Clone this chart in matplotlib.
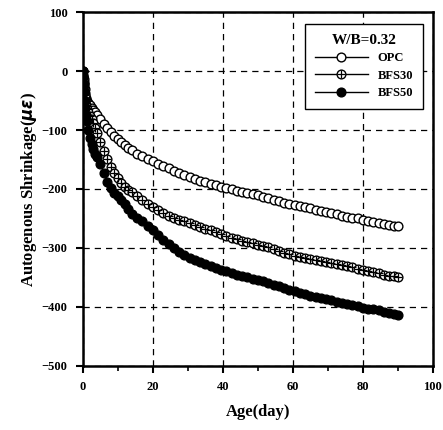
import matplotlib
matplotlib.use('Agg')
import matplotlib.pyplot as plt
from matplotlib.lines import Line2D
from matplotlib.legend_handler import HandlerTuple
from matplotlib.ticker import MultipleLocator

plt.rcParams['font.family'] = ['Liberation Serif', 'DejaVu Serif']
plt.rcParams['font.weight'] = 'bold'

# age in days
age = [0, 0.1, 0.2, 0.3, 0.5, 0.7, 1, 1.3, 1.6, 2, 2.5, 3, 3.5, 4,
       5, 6, 7, 8, 9, 10, 11, 12, 13, 14,
       15.5, 17, 18.5, 20, 21.5, 23, 24.5, 26, 27.5, 29, 30.5, 32, 33.5, 35,
       36.5, 38, 39.5, 41, 42.5, 44, 45.5, 47, 48.5, 50, 51.5, 53, 54.5, 56,
       57.5, 59, 60.5, 62, 63.5, 65, 66.5, 68, 69.5, 71, 72.5, 74, 75.5, 77,
       78.5, 80, 81.5, 83, 84.5, 86, 87.5, 89, 90]

opc = [0, -6, -14, -22, -30, -38, -45, -50, -54, -58, -62, -66, -70, -74,
       -82, -90, -97, -104, -110, -115, -120, -125, -130, -134,
       -140, -144, -149, -153, -157, -161, -165, -169, -173, -177, -180, -183, -186, -189,
       -191, -194, -196, -198, -200, -203, -205, -207, -209, -211, -213, -215, -218, -221,
       -223, -226, -228, -229, -231, -233, -235, -237, -239, -241, -243, -245, -247, -249,
       -250, -252, -254, -256, -258, -259, -261, -262, -263]

bfs30 = [0, -8, -18, -28, -40, -50, -58, -64, -70, -76, -82, -88, -96, -105,
         -120, -135, -150, -162, -173, -182, -190, -196, -201, -205,
         -212, -219, -225, -231, -236, -241, -245, -249, -252, -255, -258, -261, -264, -267,
         -270, -273, -277, -280, -283, -285, -288, -290, -292, -295, -297, -299, -302, -305,
         -308, -310, -313, -315, -317, -319, -320, -322, -324, -325, -327, -329, -331, -333,
         -335, -337, -339, -341, -343, -345, -347, -348, -350]

bfs50 = [0, -10, -22, -35, -50, -62, -75, -85, -100, -114, -124, -133, -140, -146,
         -157, -173, -188, -198, -206, -212, -219, -226, -234, -242,
         -249, -255, -262, -270, -278, -286, -293, -300, -306, -312, -317, -320, -324, -328,
         -331, -334, -337, -339, -342, -345, -347, -349, -352, -354, -356, -359, -362, -365,
         -368, -371, -373, -376, -378, -381, -383, -385, -387, -389, -391, -393, -395, -397,
         -399, -401, -403, -404, -406, -408, -410, -412, -413]

fig = plt.figure(figsize=(4.43, 4.30), dpi=100)
ax = fig.add_axes([0.187, 0.149, 0.79, 0.823])

ms = 6.3
ax.plot(age, opc, 'o', ms=ms, mfc='white', mec='black', mew=1, zorder=3)
ax.plot(age, bfs30, 'o', ms=ms, mfc='white', mec='black', mew=1, zorder=3)
ax.plot(age, bfs30, '+', ms=ms, color='black', mew=0.9, zorder=4)
ax.plot(age, bfs50, 'o', ms=ms, mfc='black', mec='black', mew=1, zorder=3)

ax.set_xlim(0, 100)
ax.set_ylim(-500, 100)
ax.xaxis.set_major_locator(MultipleLocator(20))
ax.xaxis.set_minor_locator(MultipleLocator(10))
ax.yaxis.set_major_locator(MultipleLocator(100))
ax.tick_params(axis='both', which='major', direction='out', length=5, width=1.5,
               labelsize=9, pad=6)
ax.tick_params(axis='x', which='minor', direction='out', length=3.5, width=1.2)
for s in ax.spines.values():
    s.set_linewidth(1.8)

ax.grid(True, which='major', color='black', linestyle=(0, (5, 4)), linewidth=0.9)

ax.set_xlabel('Age(day)', fontsize=12, fontweight='bold', labelpad=8)
ax.set_ylabel(r'Autogenous Shrinkage($\mu\varepsilon$)', fontsize=12, fontweight='bold', labelpad=2)

h_opc = Line2D([], [], color='black', lw=1, marker='o', ms=ms, mfc='white', mec='black')
h_30a = Line2D([], [], color='black', lw=1, marker='o', ms=ms, mfc='white', mec='black')
h_30b = Line2D([], [], color='black', lw=0, marker='+', ms=ms, mew=0.9)
h_50 = Line2D([], [], color='black', lw=1, marker='o', ms=ms, mfc='black', mec='black')
leg = ax.legend([h_opc, (h_30a, h_30b), h_50], ['OPC', 'BFS30', 'BFS50'],
                handler_map={tuple: HandlerTuple(ndivide=1)},
                loc='upper right', bbox_to_anchor=(0.99, 0.985),
                title='W/B=0.32', title_fontproperties={'weight': 'bold', 'size': 11},
                prop={'weight': 'bold', 'size': 9}, fancybox=False, framealpha=1,
                edgecolor='black', handlelength=4.2, borderpad=0.8, labelspacing=0.45)
leg.get_frame().set_linewidth(1.0)

fig.savefig('out.png', dpi=100)
